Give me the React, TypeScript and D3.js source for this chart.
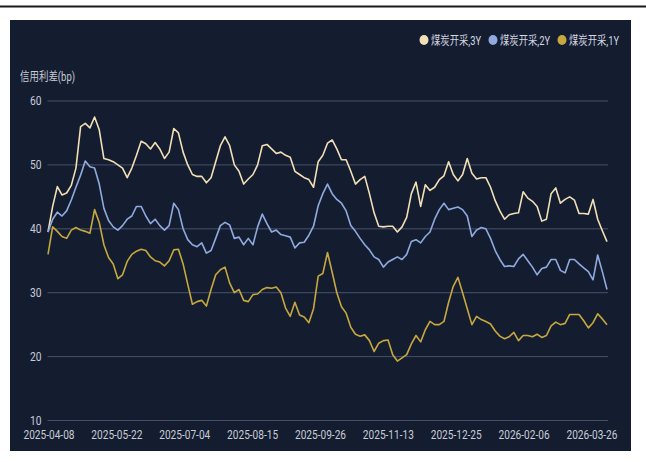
import React from "react";
import * as d3 from "d3";

// Sampled every 2 trading days, 2025-04-08 .. 2026-04-08
const series3Y = [
  39.5, 43.5, 46.6, 45.3, 45.6, 46.8, 49.5, 56, 56.5, 55.8, 57.5, 55.5, 51, 50.8, 50.5, 50, 49.5, 48, 49.5, 51.5, 53.7, 53.3, 52.5, 53.5, 52.5, 51, 52, 55.7, 55, 52, 50,
  48.5, 48.2, 48.2, 47.2, 48, 50.5, 53, 54.4, 53, 50, 49, 47, 47.8, 48.5, 50, 53, 53.2, 52.5, 51.8, 52, 51.5, 51.2, 49, 48.5, 48, 47.7, 46.5, 50.5, 51.5, 53.4,
  53.9, 52.5, 50.8, 50.8, 49, 47, 47.7, 48.2, 45.5, 42.5, 40.4, 40.3, 40.4, 40.4, 39.5, 40.3, 41.8, 45.5, 47.3, 43.5, 46.9, 46, 46.5, 47.7, 48.3, 50.5, 48.5, 47.5, 48.5, 51,
  48.7, 47.8, 48, 48, 46.5, 44.4, 42.8, 41.5, 42.2, 42.4, 42.5, 45.8, 44.8, 44.3, 43.5, 41.2, 41.5, 45.5, 46.4, 44, 44.6, 45, 44.5, 42.4, 42.4, 42.3, 44.6, 41.5, 39.7, 38,
];
const series2Y = [
  39.5, 41.5, 42.6, 42, 42.8, 44.5, 46.5, 48.4, 50.6, 49.7, 49.5, 47, 43.2, 41.3, 40.3, 39.8, 40.5, 41.5, 42, 43.5, 43.5, 42, 40.8, 41.5, 40.5, 39.8, 40.5, 44, 43, 40, 38.3,
  37.5, 37.2, 37.8, 36.2, 36.6, 38.5, 40.5, 41, 40.6, 38.5, 38.7, 37.5, 38.5, 37.5, 40.3, 42.3, 40.8, 39.5, 39.8, 39.1, 38.9, 38.7, 37, 37.8, 37.9, 39, 40.4, 43.6, 45.5, 47,
  45.5, 44.6, 44, 42.8, 40.5, 39.6, 38.5, 37.5, 36.7, 35.6, 35.2, 34, 34.8, 35.2, 35.6, 35.2, 36, 38, 38.3, 37.8, 38.8, 39.5, 41.5, 43, 44, 43, 43.2, 43.4, 43, 42,
  38.8, 39.8, 40.2, 40, 38.5, 36.6, 35.2, 34.1, 34.2, 34.1, 35.3, 36, 35, 34, 32.8, 33.8, 34, 35.2, 35.2, 33.5, 33.1, 35.2, 35.2, 34.5, 33.9, 33.3, 32, 35.9, 33.3, 30.5,
];
const series1Y = [
  36, 40.3, 39.6, 38.8, 38.5, 39.8, 40.2, 39.8, 39.6, 39.3, 43, 41, 37.5, 35.5, 34.5, 32.2, 32.8, 34.9, 36, 36.5, 36.8, 36.6, 35.6, 35, 34.8, 34.2, 35, 36.7, 36.8, 34.5, 31.3,
  28.2, 28.6, 28.8, 27.9, 30.5, 32.8, 33.6, 34, 31.5, 30, 30.5, 28.8, 28.6, 29.7, 29.8, 30.5, 30.8, 30.7, 30.9, 30, 27.6, 26.3, 28.5, 26.5, 26.2, 25.3, 27.5, 32.6, 33, 36.3,
  33.2, 30, 27.8, 26.8, 24.6, 23.5, 23.2, 23.4, 22.5, 20.8, 22.1, 22.5, 22.6, 20.3, 19.3, 19.8, 20.3, 22, 23.3, 22.3, 24.2, 25.5, 25, 25, 25.5, 28.5, 31, 32.4, 30, 27.5,
  25, 26.3, 25.8, 25.5, 25.1, 24, 23.2, 22.8, 23.1, 23.8, 22.5, 23.3, 23.3, 23.1, 23.5, 23, 23.3, 24.8, 25.4, 25, 25.2, 26.6, 26.6, 26.6, 25.6, 24.5, 25.3, 26.7, 25.9, 25,
];
const xLabels = [
  "2025-04-08", "2025-05-22", "2025-07-04", "2025-08-15", "2025-09-26",
  "2025-11-13", "2025-12-25", "2026-02-06", "2026-03-26",
];
const xLabelStep = 14.57; // label spacing in samples
const yTicks = [10, 20, 30, 40, 50, 60];
const seriesNames = ["煤炭开采,3Y", "煤炭开采,2Y", "煤炭开采,1Y"];
const seriesColors = ["#f2dfb6", "#90aadf", "#c6a83e"];
const yTitle = "信用利差(bp)";

const W = 646;
const H = 462;
const FONT = "Roboto, 'Noto Sans CJK SC', sans-serif";

export default function App() {
  const n = series3Y.length;
  const x = d3.scaleLinear().domain([0, n - 1]).range([48, 607]);
  const y = d3.scaleLinear().domain([10, 60]).range([420.5, 101]);
  const line = d3
    .line<number>()
    .x((_, i) => x(i))
    .y((d) => y(d));
  const all = [series3Y, series2Y, series1Y];
  const legendX = [424, 493, 562];

  return (
    <svg
      width={W}
      height={H}
      style={{ position: "absolute", left: 0, top: 0, background: "#ffffff" }}
      fontFamily={FONT}
    >
      <rect x={0} y={5.5} width={W} height={2} fill="#1a1a1a" />
      <rect x={10} y={20} width={621} height={431} fill="#141d30" />

      {/* legend */}
      {seriesNames.map((name, i) => (
        <g key={name}>
          <ellipse cx={legendX[i]} cy={40} rx={4.5} ry={5} fill={seriesColors[i]} />
          <text
            x={legendX[i] + 7}
            y={44.5}
            fontSize={12}
            fill="#d4d8e0"
            textLength={50}
            lengthAdjust="spacingAndGlyphs"
          >
            {name}
          </text>
        </g>
      ))}

      {/* y title */}
      <text x={20} y={81} fontSize={12} fill="#c8ccd6" textLength={55} lengthAdjust="spacingAndGlyphs">
        {yTitle}
      </text>

      {/* grid + y labels */}
      {yTicks.map((t) => (
        <g key={t}>
          <line x1={47.5} x2={608} y1={y(t)} y2={y(t)} stroke="#46506a" strokeWidth={1} />
          <text
            x={41.5}
            y={y(t) + 4.3}
            fontSize={12}
            fill="#c8ccd6"
            textAnchor="end"
            textLength={11.5}
            lengthAdjust="spacingAndGlyphs"
          >
            {t}
          </text>
        </g>
      ))}

      {/* x labels */}
      {xLabels.map((lab, k) => (
        <text
          key={lab}
          x={x(k * xLabelStep) - 24.5}
          y={438.5}
          fontSize={12}
          fill="#c8ccd6"
          textLength={51}
          lengthAdjust="spacingAndGlyphs"
        >
          {lab}
        </text>
      ))}

      {/* series */}
      {all.map((s, i) => (
        <path
          key={seriesNames[i]}
          d={line(s) || ""}
          fill="none"
          stroke={seriesColors[i]}
          strokeWidth={1.6}
          strokeLinejoin="round"
        />
      ))}
    </svg>
  );
}
